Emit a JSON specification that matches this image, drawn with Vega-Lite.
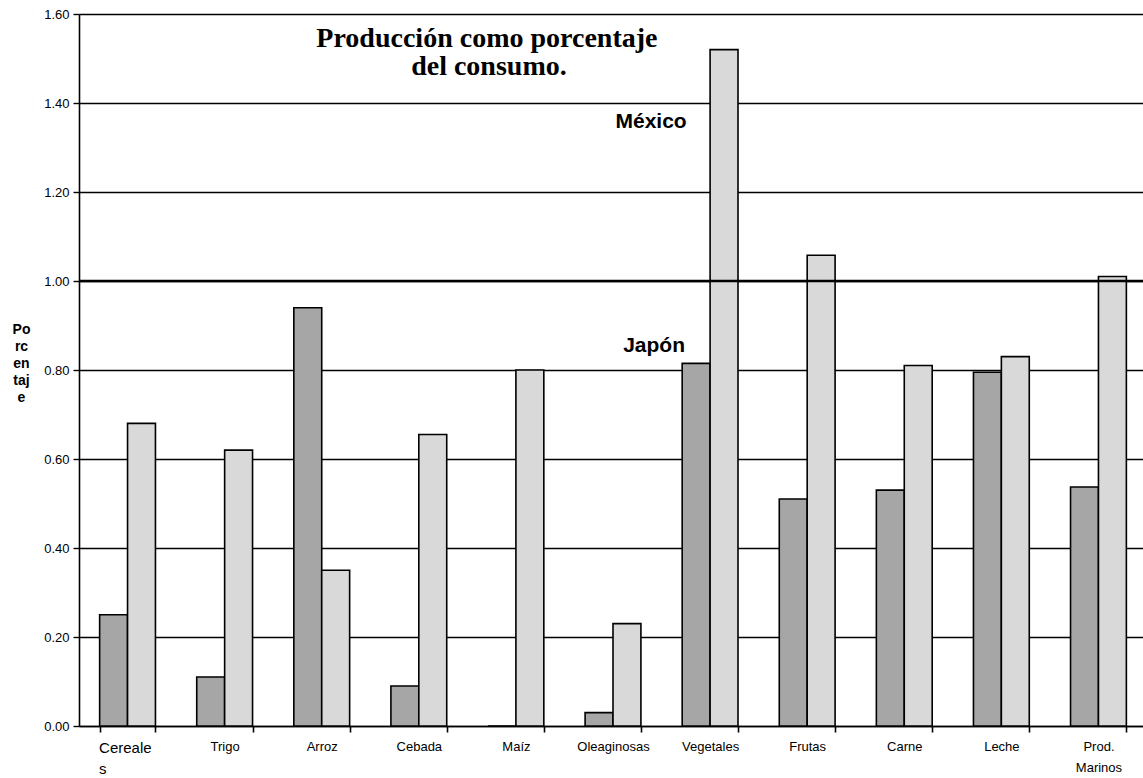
{
  "$schema": "https://vega.github.io/schema/vega-lite/v6.json",
  "width": 1068,
  "height": 712,
  "autosize": {"type": "none"},
  "padding": {"left": 79, "top": 14, "right": 0, "bottom": 52},
  "background": "white",
  "config": {
    "view": {"stroke": null},
    "font": "Liberation Sans"
  },
  "layer": [
    {
      "data": {
        "values": [
          {"producto": "Cereales", "pais": "Japón", "valor": 0.25},
          {"producto": "Cereales", "pais": "México", "valor": 0.68},
          {"producto": "Trigo", "pais": "Japón", "valor": 0.11},
          {"producto": "Trigo", "pais": "México", "valor": 0.62},
          {"producto": "Arroz", "pais": "Japón", "valor": 0.94},
          {"producto": "Arroz", "pais": "México", "valor": 0.35},
          {"producto": "Cebada", "pais": "Japón", "valor": 0.09},
          {"producto": "Cebada", "pais": "México", "valor": 0.655},
          {"producto": "Maíz", "pais": "Japón", "valor": 0},
          {"producto": "Maíz", "pais": "México", "valor": 0.80},
          {"producto": "Oleaginosas", "pais": "Japón", "valor": 0.03},
          {"producto": "Oleaginosas", "pais": "México", "valor": 0.23},
          {"producto": "Vegetales", "pais": "Japón", "valor": 0.815},
          {"producto": "Vegetales", "pais": "México", "valor": 1.52},
          {"producto": "Frutas", "pais": "Japón", "valor": 0.51},
          {"producto": "Frutas", "pais": "México", "valor": 1.058},
          {"producto": "Carne", "pais": "Japón", "valor": 0.53},
          {"producto": "Carne", "pais": "México", "valor": 0.81},
          {"producto": "Leche", "pais": "Japón", "valor": 0.795},
          {"producto": "Leche", "pais": "México", "valor": 0.83},
          {"producto": "Prod. Marinos", "pais": "Japón", "valor": 0.537},
          {"producto": "Prod. Marinos", "pais": "México", "valor": 1.01}
        ]
      },
      "mark": {"type": "bar", "stroke": "black", "strokeWidth": 1.6},
      "encoding": {
        "x": {
          "field": "producto",
          "type": "nominal",
          "sort": null,
          "scale": {"paddingInner": 0.425, "paddingOuter": 0.2125},
          "axis": {
            "title": null,
            "labelAngle": 0,
            "labelColor": "black",
            "labelFontSize": {"expr": "datum.value == 'Cereales' ? 15 : 13"},
            "labelAlign": {"expr": "datum.value == 'Cereales' ? 'left' : 'center'"},
            "labelOffset": {"expr": "datum.value == 'Cereales' ? -29 : 0"},
            "labelPadding": 8,
            "labelLineHeight": 21,
            "labelExpr": "datum.value == 'Cereales' ? ['Cereale', 's'] : datum.value == 'Prod. Marinos' ? ['Prod.', 'Marinos'] : datum.value",
            "domainColor": "black",
            "domainWidth": 1.6,
            "tickColor": "black",
            "tickWidth": 1.6,
            "tickSize": 6,
            "tickBand": "extent",
            "grid": false
          }
        },
        "xOffset": {"field": "pais", "type": "nominal", "sort": ["Japón", "México"]},
        "y": {
          "field": "valor",
          "type": "quantitative",
          "scale": {"domain": [0, 1.6], "nice": false},
          "axis": {
            "title": ["Po", "rc", "en", "taj", "e"],
            "titleAngle": 0,
            "titleFontSize": 14,
            "titleFontWeight": "bold",
            "titleColor": "black",
            "titleLineHeight": 17,
            "titleAlign": "center",
            "titleBaseline": "top",
            "titleX": -58,
            "titleY": 308,
            "values": [0, 0.2, 0.4, 0.6, 0.8, 1.0, 1.2, 1.4, 1.6],
            "format": ".2f",
            "labelFontSize": 13,
            "labelColor": "black",
            "labelPadding": 4,
            "domainColor": "black",
            "domainWidth": 1.6,
            "tickColor": "black",
            "tickWidth": 1.4,
            "tickSize": 6,
            "gridColor": "black",
            "gridWidth": 1.4,
            "gridOpacity": 1
          }
        },
        "color": {
          "field": "pais",
          "type": "nominal",
          "legend": null,
          "scale": {"domain": ["Japón", "México"], "range": ["#a6a6a6", "#d9d9d9"]}
        }
      }
    },
    {
      "data": {"values": [{"ref": 1.0}]},
      "mark": {"type": "rule", "color": "black", "strokeWidth": 2.6},
      "encoding": {"y": {"field": "ref", "type": "quantitative"}}
    },
    {
      "data": {
        "values": [
          {"producto": "Maíz", "linea": "Producción como porcentaje", "pos": 1.5265, "desp": -29},
          {"producto": "Maíz", "linea": "del consumo.", "pos": 1.463, "desp": -27}
        ]
      },
      "mark": {"type": "text", "font": "Liberation Serif", "fontSize": 28, "fontWeight": "bold", "color": "black", "baseline": "alphabetic", "dx": {"expr": "datum.desp"}},
      "encoding": {
        "x": {"field": "producto", "type": "nominal", "sort": null},
        "y": {"field": "pos", "type": "quantitative"},
        "text": {"field": "linea"}
      }
    },
    {
      "data": {
        "values": [
          {"producto": "Vegetales", "etiqueta": "México", "pos": 1.344, "desp": -59},
          {"producto": "Vegetales", "etiqueta": "Japón", "pos": 0.84, "desp": -56}
        ]
      },
      "mark": {"type": "text", "fontSize": 21, "fontWeight": "bold", "color": "black", "font": "Liberation Sans", "baseline": "alphabetic", "dx": {"expr": "datum.desp"}},
      "encoding": {
        "x": {"field": "producto", "type": "nominal", "sort": null},
        "y": {"field": "pos", "type": "quantitative"},
        "text": {"field": "etiqueta"}
      }
    }
  ]
}
